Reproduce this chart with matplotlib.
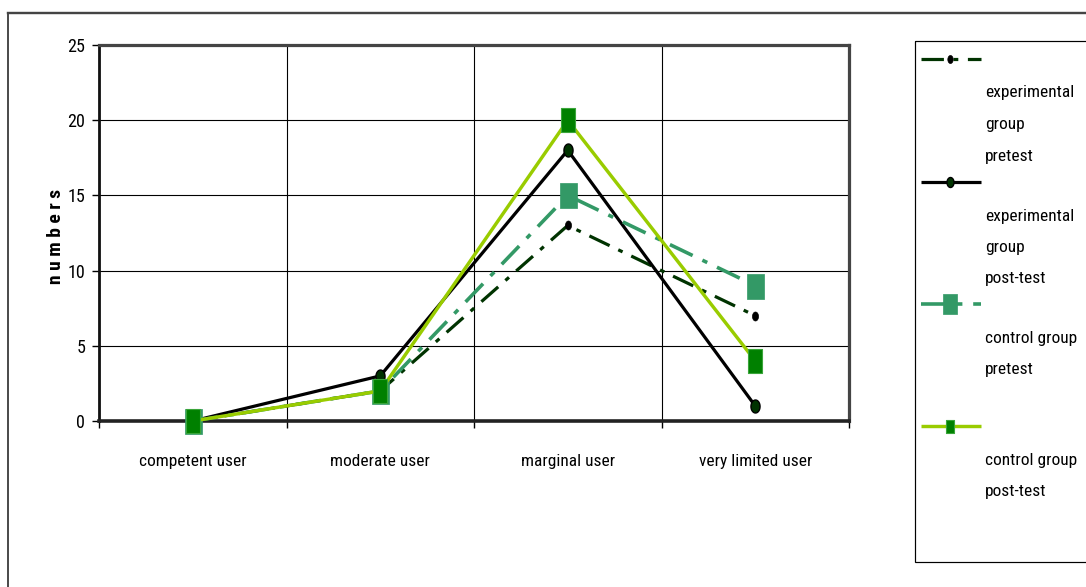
import matplotlib
matplotlib.use("Agg")
import matplotlib.pyplot as plt
from matplotlib import font_manager
from matplotlib.path import Path
from matplotlib.patches import Rectangle
import numpy as np

# ---- data ----
categories = ["competent user", "moderate user", "marginal user", "very limited user"]
exp_pretest = [0, 2, 13, 7]
exp_posttest = [0, 3, 18, 1]
ctrl_pretest = [0, 2, 15, 9]
ctrl_posttest = [0, 2, 20, 4]
series_names = [
    "experimental\ngroup\npretest",
    "experimental\ngroup\npost-test",
    "control group\npretest",
    "control group\npost-test",
]
y_ticks = [0, 5, 10, 15, 20, 25]

# prefer a narrow sans face when one is installed
installed = {f.name for f in font_manager.fontManager.ttflist}
narrow_choices = ["Liberation Sans Narrow", "Arial Narrow", "Roboto Condensed",
                  "Open Sans Condensed", "Nimbus Sans Narrow"]
narrow = next((n for n in narrow_choices if n in installed), None)
STRETCH = "normal"
if narrow is None:
    cond = [f for f in font_manager.fontManager.ttflist
            if f.name == "DejaVu Sans" and f.stretch in ("condensed", 300, 375)]
    if cond:
        narrow = "DejaVu Sans"
        STRETCH = "condensed"
if narrow is None:
    narrow = "Liberation Sans"
FONT = [narrow, "Liberation Sans", "DejaVu Sans"]
plt.rcParams["font.family"] = FONT
plt.rcParams["font.stretch"] = STRETCH
FS = 12.5 if narrow != "Liberation Sans" else 11.5

W, H, DPI = 1086, 587, 100
PX = 72.0 / DPI  # points per pixel


def tall_box(w):
    verts = [(-w, -1), (w, -1), (w, 1), (-w, 1), (-w, -1)]
    codes = [Path.MOVETO, Path.LINETO, Path.LINETO, Path.LINETO, Path.CLOSEPOLY]
    return Path(verts, codes)


def tall_oval(w):
    t = np.linspace(0, 2 * np.pi, 49)
    return Path(np.column_stack([w * np.cos(t), np.sin(t)]), closed=True)


dashdot = (0, (7, 3, 1.5, 3))

styles = [
    dict(color="#003300", lw=3.2 * PX, ls=dashdot, marker=tall_oval(0.67),
         ms=9 * PX, mfc="black", mec="black", mew=0.5),
    dict(color="black", lw=3.2 * PX, ls="-", marker=tall_oval(0.7),
         ms=13 * PX, mfc="#003300", mec="black", mew=1.0),
    dict(color="#339966", lw=3.6 * PX, ls=dashdot, marker=tall_box(0.68),
         ms=25 * PX, mfc="#339966", mec="#339966", mew=0.5),
    dict(color="#99CC00", lw=3.4 * PX, ls="-", marker=tall_box(0.58),
         ms=24 * PX, mfc="#008000", mec="#3aa53a", mew=0.8),
]
legend_ms = [8 * PX, 10 * PX, 20 * PX, 13 * PX]
series = [exp_pretest, exp_posttest, ctrl_pretest, ctrl_posttest]

fig = plt.figure(figsize=(W / DPI, H / DPI), dpi=DPI)
fig.patch.set_facecolor("white")

# ---- plot area ----
L, R, T, B = 99, 849, 45, 421
ax = fig.add_axes([L / W, 1 - B / H, (R - L) / W, (B - T) / H])
ax.set_facecolor("white")

x = np.arange(len(categories)) + 0.5
for vals, st in zip(series, styles):
    ax.plot(x, vals, color=st["color"], lw=st["lw"], ls=st["ls"],
            marker=st["marker"], ms=st["ms"], mfc=st["mfc"], mec=st["mec"],
            mew=st["mew"], clip_on=False, zorder=5, dash_capstyle="butt",
            solid_capstyle="butt")

ax.set_xlim(0, len(categories))
ax.set_ylim(0, 25)
ax.set_yticks(y_ticks)
ax.set_yticklabels([str(v) for v in y_ticks], fontsize=FS + 0.5)
ax.set_xticks(np.arange(len(categories) + 1))
ax.set_xticklabels([])
ax.set_xticks(x, minor=True)
ax.set_xticklabels(categories, minor=True, fontsize=FS)
ax.tick_params(axis="x", which="major", direction="out", length=5, width=1, color="black")
ax.tick_params(axis="x", which="minor", length=0, pad=24)
ax.tick_params(axis="y", direction="out", length=5, width=1, pad=5, color="black")

ax.grid(True, which="major", color="black", lw=0.8, zorder=1)
ax.set_axisbelow(True)

for side in ["top", "right"]:
    ax.spines[side].set_color("#444444")
    ax.spines[side].set_linewidth(3.2 * PX)
ax.spines["left"].set_color("#111111")
ax.spines["left"].set_linewidth(2.8 * PX)
ax.spines["bottom"].set_color("#222222")
ax.spines["bottom"].set_linewidth(3.6 * PX)

ax.set_ylabel("n u m b e r s", fontsize=FS + 1.5, fontweight="bold")
ax.yaxis.set_label_coords(-(L - 65) / (R - L), 0.49)

# ---- overlay: outer frame and legend (pixel coordinates) ----
ov = fig.add_axes([0, 0, 1, 1], zorder=10)
ov.set_xlim(0, W)
ov.set_ylim(H, 0)
ov.axis("off")
ov.patch.set_alpha(0)

ov.plot([8, 8], [13, H + 5], color="#222222", lw=1.6 * PX, clip_on=False)
ov.plot([8, W + 5], [13, 13], color="#444444", lw=2.4 * PX, clip_on=False)

ov.add_patch(Rectangle((915, 41), 200, 521, fill=False, ec="black", lw=1.2 * PX,
                       clip_on=False))

entry_y = [59, 182, 304, 426]
for ey, name, st, lms in zip(entry_y, series_names, styles, legend_ms):
    ov.plot([921, 981], [ey, ey], color=st["color"], lw=st["lw"], ls=st["ls"],
            dash_capstyle="butt", solid_capstyle="butt")
    ov.plot([950], [ey], ls="none", marker=st["marker"], ms=lms, mfc=st["mfc"],
            mec=st["mec"], mew=st["mew"])
    for i, line in enumerate(name.split("\n")):
        ov.text(985, ey + 34 + 31.5 * i, line, fontsize=FS, va="center", ha="left")

fig.savefig("out.png", dpi=DPI)
